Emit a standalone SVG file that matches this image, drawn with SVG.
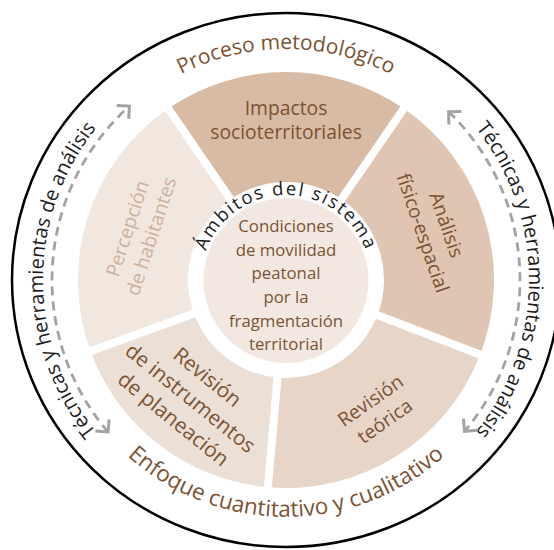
<svg xmlns="http://www.w3.org/2000/svg" width="554" height="550" viewBox="0 0 554 550">
  <style>
    text { font-family: "Open Sans", "Noto Sans", "Liberation Sans", sans-serif; }
    .br { fill: #7b5232; }
    .lt { fill: #cdb19c; }
    .bk { fill: #1a1a1a; }
    .mid { text-anchor: middle; }
    .sec { font-size: 19.3px; }
    .big { font-size: 20.8px; }
    .ctr { font-size: 16.8px; }
    .gap { stroke: #ffffff; stroke-width: 8; }
    .dash { fill: none; stroke: #a3a3a3; stroke-width: 2.8; stroke-dasharray: 9 6; }
  </style>
  <defs>
    <marker id="chev" markerUnits="userSpaceOnUse" markerWidth="24" markerHeight="24" viewBox="-14 -12 16 24" refX="0" refY="0" orient="auto-start-reverse">
      <path d="M -9 -9 L 0 0 L -9 9" fill="none" stroke="#a3a3a3" stroke-width="3"/>
    </marker>
    <path id="pTop" d="M 55 280 A 231 231 0 0 1 517 280"/>
    <path id="pBot" d="M 49 280 A 237 237 0 0 0 523 280"/>
    <path id="pLeft" d="M 286 523 A 243 243 0 0 1 286 37"/>
    <path id="pRight" d="M 286 37 A 243 243 0 0 1 286 523"/>
    <path id="pAmb" d="M 201 280 A 85 85 0 0 1 371 280"/>
  </defs>

  <rect width="554" height="550" fill="#ffffff"/>

  <g id="outer">
    <ellipse cx="286" cy="280" rx="274" ry="267" fill="none" stroke="#000000" stroke-width="2.5"/>
    <text class="br mid" font-size="21"><textPath href="#pTop" startOffset="50%">Proceso metodológico</textPath></text>
    <text class="br mid" font-size="22.5"><textPath href="#pBot" startOffset="50%">Enfoque cuantitativo y cualitativo</textPath></text>
    <text class="bk mid" font-size="20"><textPath href="#pLeft" startOffset="50%">Técnicas y herramientas de análisis</textPath></text>
    <text class="bk mid" font-size="20"><textPath href="#pRight" startOffset="50%">Técnicas y herramientas de análisis</textPath></text>
  </g>

  <g id="connectors">
    <path class="dash" d="M 108.1 432 A 234 234 0 0 1 129.4 106.1" marker-start="url(#chev)" marker-end="url(#chev)"/>
    <path class="dash" d="M 448.6 111.7 A 234 234 0 0 1 464.5 431.3" marker-start="url(#chev)" marker-end="url(#chev)"/>
  </g>

  <g id="impactos">
    <path d="M 168.2 108.6 A 208 208 0 0 1 403.8 108.6 L 341.5 199.2 A 98 98 0 0 0 230.5 199.2 Z" fill="#d8bba5"/>
    <g transform="translate(286,280)">
      <text class="br mid sec" y="-165">Impactos</text>
      <text class="br mid sec" y="-141">socioterritoriales</text>
    </g>
  </g>

  <g id="analisis">
    <path d="M 403.8 108.6 A 208 208 0 0 1 480.2 354.5 L 377.5 315.1 A 98 98 0 0 0 341.5 199.2 Z" fill="#dfc5b2"/>
    <g transform="translate(286,280) rotate(71)">
      <text class="br mid sec" y="-163">Análisis</text>
      <text class="br mid sec" y="-138">físico-espacial</text>
    </g>
  </g>

  <g id="revision-teorica">
    <path d="M 480.2 354.5 A 208 208 0 0 1 267.9 487.2 L 277.5 377.6 A 98 98 0 0 0 377.5 315.1 Z" fill="#e7d5c7"/>
    <g transform="translate(286,280) rotate(-35)">
      <text class="br mid sec" y="154">Revisión</text>
      <text class="br mid sec" y="179">teórica</text>
    </g>
  </g>

  <g id="revision-instrumentos">
    <path d="M 267.9 487.2 A 208 208 0 0 1 90.5 351.1 L 193.9 313.5 A 98 98 0 0 0 277.5 377.6 Z" fill="#ecdfd5"/>
    <g transform="translate(286,280) rotate(39)">
      <text class="br mid big" y="132">Revisión</text>
      <text class="br mid big" y="159">de instrumentos</text>
      <text class="br mid big" y="186">de planeación</text>
    </g>
  </g>

  <g id="percepcion">
    <path d="M 90.5 351.1 A 208 208 0 0 1 168.2 108.6 L 230.5 199.2 A 98 98 0 0 0 193.9 313.5 Z" fill="#f2e7df"/>
    <g transform="translate(286,280) rotate(-72)">
      <text class="lt mid sec" y="-160">Percepción</text>
      <text class="lt mid sec" y="-135">de habitantes</text>
    </g>
  </g>

  <g id="gaps">
    <line class="gap" x1="235.0" y1="205.8" x2="163.7" y2="102.0"/>
    <line class="gap" x1="337.0" y1="205.8" x2="408.3" y2="102.0"/>
    <line class="gap" x1="370.0" y1="312.3" x2="487.7" y2="357.4"/>
    <line class="gap" x1="278.2" y1="369.7" x2="267.2" y2="495.2"/>
    <line class="gap" x1="201.4" y1="310.8" x2="83.0" y2="353.9"/>
  </g>

  <g id="centro">
    <circle cx="286" cy="280.5" r="82.5" fill="#f2e8e1"/>
    <text class="bk mid" font-size="18.5" letter-spacing="1.8"><textPath href="#pAmb" startOffset="50%">Ámbitos del sistema</textPath></text>
    <text class="br mid ctr" x="286" y="232">Condiciones</text>
    <text class="br mid ctr" x="286" y="255.5">de movilidad</text>
    <text class="br mid ctr" x="286" y="279">peatonal</text>
    <text class="br mid ctr" x="286" y="302.5">por la</text>
    <text class="br mid ctr" x="286" y="326.5">fragmentación</text>
    <text class="br mid ctr" x="286" y="350">territorial</text>
  </g>
</svg>
